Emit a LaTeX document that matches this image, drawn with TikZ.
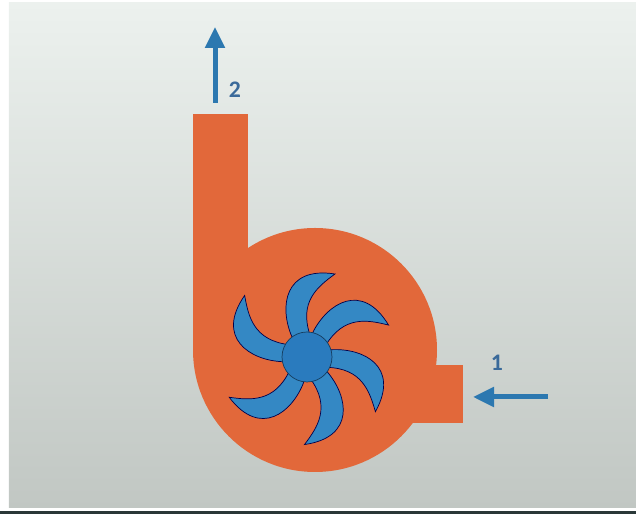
\documentclass[tikz,border=0pt]{standalone}
\usepackage{fontspec}
\setmainfont{Carlito}
\usepackage{xcolor}
\usepackage{tikz}
\usetikzlibrary{arrows.meta}

\definecolor{pagetop}{HTML}{ECF1EE}
\definecolor{pagebot}{HTML}{C1C7C3}
\definecolor{rulecol}{HTML}{2A3838}
\definecolor{casing}{HTML}{E2683A}
\definecolor{bladecol}{HTML}{3488C4}
\definecolor{hubcol}{HTML}{2A7BBE}
\definecolor{flowcol}{HTML}{2C78B0}
\definecolor{numcol}{HTML}{3A6A9A}

\begin{document}
\begin{tikzpicture}[
    blade/.style={fill=bladecol, draw=black!70!blue, line width=0.4pt},
    hubdisc/.style={circle, fill=hubcol, draw=black!50!hubcol, line width=0.4pt, minimum size=1cm, inner sep=0pt},
    flow/.style={flowcol, line width=0.1cm, -{Triangle[width=0.38cm,length=0.42cm]}},
    num/.style={font=\fontsize{13.5}{16}\selectfont\bfseries, text=numcol}
]
    \useasboundingbox (0,0) rectangle (12.72,10.28);

    % Page
    \fill[rulecol] (0,0) rectangle (12.72,0.06);
    \shade[top color=pagetop, bottom color=pagebot] (0.18,0.12) rectangle (12.72,10.22);

    % Casing: outlet duct, volute, inlet duct
    \fill[casing] (3.86,8.0) rectangle (4.96,3.28);
    \fill[casing] (6.30,3.28) circle (2.44);
    \fill[casing] (8.20,1.82) rectangle (9.26,2.98);

    % Impeller blades (hand placed, not quite evenly spaced)
    \begin{scope}[shift={(6.14,3.14)}]
        \foreach \a in {0,-50,-110,-163,-224,-296}
            \filldraw[blade, rotate=\a] (-0.3,0.4) .. controls (-0.56,1.0) and (-0.46,1.82) .. (0.56,1.66)
                .. controls (0.2,1.4) and (-0.16,1.1) .. (0.06,0.44) -- cycle;
    \end{scope}
    \node[hubdisc] (hub) at (6.14,3.14) {};

    % Flow in and out
    \coordinate (outstart) at (4.30,8.22);
    \coordinate (outend) at (4.30,9.74);
    \draw[flow] (outstart) -- (outend);
    \node[num] (lbl2) at (4.70,8.48) {2};

    \coordinate (instart) at (10.96,2.34);
    \coordinate (inend) at (9.46,2.34);
    \draw[flow] (instart) -- (inend);
    \node[num] (lbl1) at (9.94,3.02) {1};
\end{tikzpicture}
\end{document}
